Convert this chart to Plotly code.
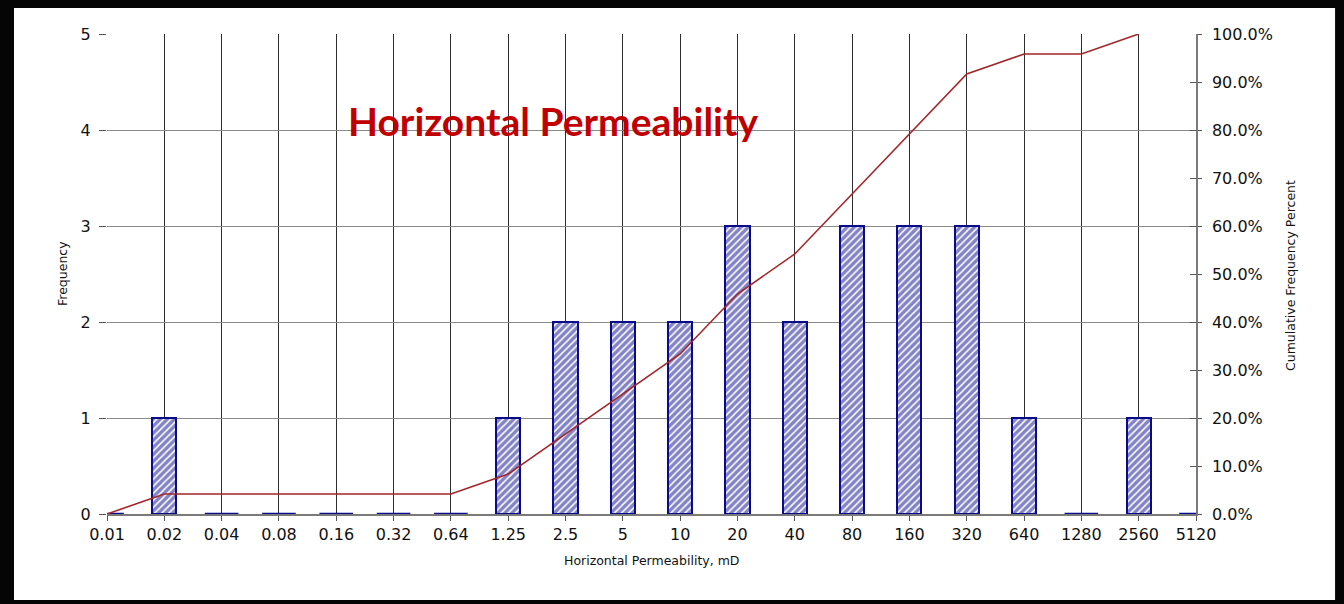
import plotly.graph_objects as go

# Permeability bins (mD) and counts per bin
bins = ["0.01", "0.02", "0.04", "0.08", "0.16", "0.32", "0.64", "1.25", "2.5", "5",
        "10", "20", "40", "80", "160", "320", "640", "1280", "2560", "5120"]
frequency = [0, 1, 0, 0, 0, 0, 0, 1, 2, 2, 2, 3, 2, 3, 3, 3, 1, 0, 1, 0]
# Cumulative frequency is plotted up to the last populated bin
cum_last_bin = "2560"

pos = list(range(len(bins)))
total = sum(frequency)
cum = []
running = 0
for f in frequency[: bins.index(cum_last_bin) + 1]:
    running += f
    cum.append(running / total)

NAVY = "#0a0a8c"
DARKRED = "#a3262a"
TICKFONT = dict(family="DejaVu Sans", size=16, color="#111111")

fig = go.Figure()

fig.add_trace(go.Bar(
    x=pos, y=frequency, width=0.42,
    marker=dict(color="white",
                line=dict(color=NAVY, width=2),
                pattern=dict(shape="/", fgcolor=NAVY, bgcolor="white",
                             size=5, solidity=0.7)),
    showlegend=False, hoverinfo="skip",
))

# Empty bins show as a flat outline on the baseline
zero_pos = [p for p, f in zip(pos, frequency) if f == 0]
fig.add_trace(go.Scatter(
    x=zero_pos, y=[0] * len(zero_pos), mode="markers",
    marker=dict(symbol="line-ew", size=24, line=dict(color=NAVY, width=2.5)),
    showlegend=False, hoverinfo="skip",
))

fig.add_trace(go.Scatter(
    x=pos[: len(cum)], y=cum, yaxis="y2", mode="lines",
    line=dict(color=DARKRED, width=1.6),
    showlegend=False, hoverinfo="skip",
))

fig.update_layout(
    width=1344, height=604,
    margin=dict(l=107, r=148, t=34, b=90),
    paper_bgcolor="#050505",
    plot_bgcolor="white",
    bargap=0,
    xaxis=dict(range=[0, 19], tickmode="array", tickvals=pos, ticktext=bins,
               showgrid=True, gridcolor="#2e2e2e", gridwidth=1,
               showline=True, linecolor="#7a7a7a", linewidth=1.5,
               ticks="outside", ticklen=5, tickcolor="#555555",
               tickfont=TICKFONT, zeroline=False, fixedrange=True),
    yaxis=dict(range=[0, 5], dtick=1, showgrid=True, gridcolor="#8a8a8a", gridwidth=1.3,
               showline=False, ticks="outside", ticklen=7, tickcolor="#555555",
               ticklabelstandoff=5,
               tickfont=TICKFONT, zeroline=False, fixedrange=True),
    yaxis2=dict(range=[0, 1], dtick=0.1, tickformat=".1%", overlaying="y", side="right",
                showgrid=False, showline=True, linecolor="#7a7a7a", linewidth=1.5,
                ticks="outside", ticklen=4, tickcolor="#555555",
                ticklabelstandoff=7,
                tickfont=TICKFONT, zeroline=False, fixedrange=True),
    yaxis3=dict(range=[0, 1], dtick=0.1, overlaying="y", side="right",
                showgrid=False, showline=False, showticklabels=False,
                ticks="inside", ticklen=6, tickcolor="#555555",
                zeroline=False, fixedrange=True),
    shapes=[dict(type="rect", xref="paper", yref="paper",
                 x0=-0.0854, x1=1.1277, y0=-0.179, y1=1.054,
                 fillcolor="white", line=dict(width=0), layer="below")],
    annotations=[
        dict(text="<b>Horizontal Permeability</b>", xref="paper", yref="paper",
             x=(553 - 107) / 1089, y=(514 - 121) / 480, showarrow=False,
             xanchor="center", yanchor="middle",
             font=dict(family="Lato", size=39, color="#c00000")),
        dict(text="Frequency", xref="paper", yref="paper",
             x=(62 - 107) / 1089, y=0.5, textangle=-90, showarrow=False,
             xanchor="center", yanchor="middle",
             font=dict(family="DejaVu Sans", size=12.5, color="#111111")),
        dict(text="Horizontal Permeability, mD", xref="paper", yref="paper",
             x=(651 - 107) / 1089, y=(514 - 560) / 480, showarrow=False,
             xanchor="center", yanchor="middle",
             font=dict(family="DejaVu Sans", size=12.5, color="#111111")),
        dict(text="Cumulative Frequency Percent", xref="paper", yref="paper",
             x=(1290 - 107) / 1089, y=(514 - 276) / 480, textangle=-90, showarrow=False,
             xanchor="center", yanchor="middle",
             font=dict(family="DejaVu Sans", size=12.5, color="#111111")),
    ],
)

# Extra tick marks inside the right axis, no data
fig.add_trace(go.Scatter(x=[None], y=[None], yaxis="y3", showlegend=False, hoverinfo="skip"))

fig.write_html("out.html")
